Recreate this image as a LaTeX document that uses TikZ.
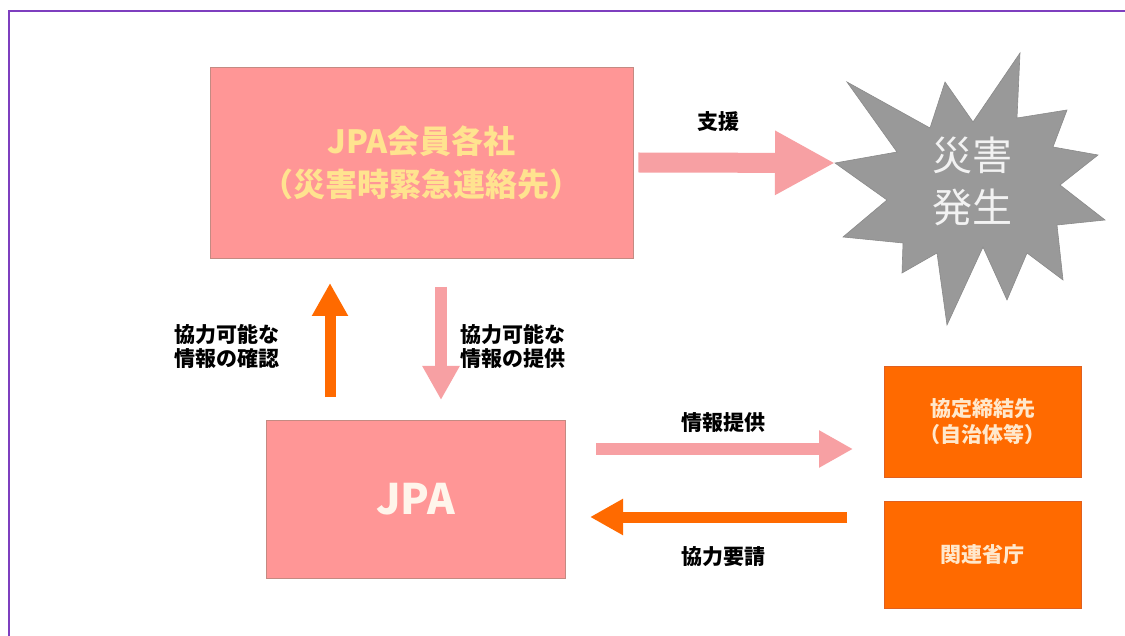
\documentclass[tikz,border=0pt]{standalone}
\usepackage{fontspec}
\setmainfont{Noto Sans CJK JP}
\usetikzlibrary{arrows.meta}
\definecolor{boxpink}{HTML}{FF9696}
\definecolor{boxpinkedge}{HTML}{C48A82}
\definecolor{arrpink}{HTML}{F7A0A3}
\definecolor{orng}{HTML}{FF6A00}
\definecolor{orngedge}{HTML}{E06020}
\definecolor{yeltext}{HTML}{FFE38F}
\definecolor{peach}{HTML}{FFE8CC}
\definecolor{stargray}{HTML}{999999}
\definecolor{stargrayedge}{HTML}{8A8A8A}
\definecolor{frame}{HTML}{7E3FBF}
\begin{document}
\begin{tikzpicture}[x=1pt,y=-1pt,
  pinkbox/.style={draw=boxpinkedge, line width=0.8pt, fill=boxpink, inner sep=0pt, align=center},
  orngbox/.style={draw=orngedge, line width=0.6pt, fill=orng, inner sep=0pt, align=center,
    text=peach, font=\bfseries\fontsize{21}{25.5}\selectfont, minimum width=197pt},
  lbl/.style={font=\bfseries\fontsize{21}{24}\selectfont, text=black, align=center, inner sep=0pt},
  pinkarrow/.style={draw=arrpink, line width=12pt, -{Triangle[length=34pt,width=35pt]}},
  orngarrow/.style={draw=orng, line width=11pt, -{Triangle[length=33pt,width=34pt]}}
]
\useasboundingbox (0,0) rectangle (1125,636);
\fill[white] (0,0) rectangle (1125,636);
\draw[frame, line width=2pt] (9,640) -- (9,11) -- (1130,11);

% boxes
\node[pinkbox, minimum width=423pt, minimum height=191pt, text=yeltext,
  font=\bfseries\fontsize{32}{43}\selectfont] (box1) at (421.5,162.5)
  {JPA会員各社\\（災害時緊急連絡先）};
\node[pinkbox, minimum width=299pt, minimum height=158pt, text=white!92!orange,
  font=\bfseries\fontsize{42}{50}\selectfont] (jpa) at (415.5,499) {JPA};
\node[orngbox, minimum height=111pt] (kyotei) at (982.5,421.5) {協定締結先\\（自治体等）};
\node[orngbox, minimum height=107pt] (kanren) at (982.5,554.5) {関連省庁};

% star
\draw[fill=stargray, draw=stargrayedge, line width=0.6pt, line join=miter]
  (835,163) -- (897,152) -- (847,82) -- (930,128) -- (945,82) -- (973,122) --
  (1020,53) -- (1017,118) -- (1067,110) -- (1053,147) -- (1098,155) --
  (1060,185) -- (1105,220) -- (1057,225) -- (1063,280) -- (1027,253) --
  (1007,300) -- (983,247) -- (947,325) -- (937,253) -- (902,273) --
  (903,243) -- (843,237) -- (887,200) -- cycle;
\node[text=white!95!black, font=\fontsize{40}{52}\selectfont, align=center, inner sep=0pt]
  (star) at (972,181) {災害\\発生};
\coordinate (startip) at (835,163);

% arrow ends
\coordinate (a1s) at ([xshift=5pt]box1.east);
\coordinate (upS) at (330,397);
\coordinate (upE) at (330,283);
\coordinate (dnS) at (441,287);
\coordinate (dnE) at (441,400);
\coordinate (infS) at (596,449);
\coordinate (infE) at (853,449);
\coordinate (reqS) at (847,517);
\coordinate (reqE) at (590,517);

% connectors
\draw[draw=arrpink, line width=20pt, -{Triangle[length=60pt,width=60pt]}] (a1s) -- (startip);
\draw[orngarrow] (upS) -- (upE);
\draw[pinkarrow] (dnS) -- (dnE);
\draw[pinkarrow] (infS) -- (infE);
\draw[orngarrow] (reqS) -- (reqE);

% labels
\node[lbl] (lsien) at (718,122) {支援};
\node[lbl] (lkak) at (227,346) {協力可能な\\情報の確認};
\node[lbl] (lteik) at (513,346) {協力可能な\\情報の提供};
\node[lbl] (ljoho) at (723,423) {情報提供};
\node[lbl] (lyosei) at (723,557) {協力要請};
\end{tikzpicture}
\end{document}
